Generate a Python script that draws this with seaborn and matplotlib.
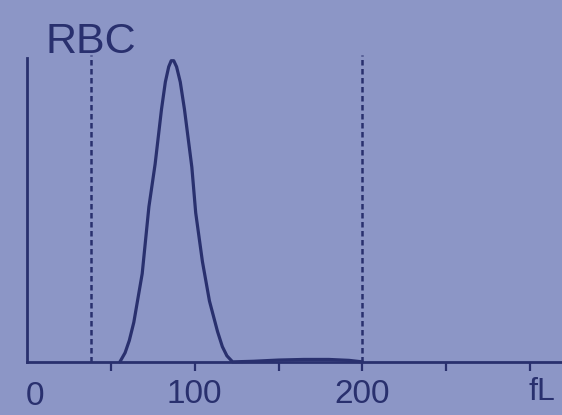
import matplotlib
matplotlib.use("Agg")
import matplotlib.pyplot as plt
import seaborn as sns

# ====== data ======
# RBC volume histogram, x in fL, y as relative count (0-100)
size_fl = [55.4, 58.5, 61.0, 63.7, 68.7, 72.7, 76.4, 80.2, 82.5, 84.5,
           86.0, 87.5, 89.2, 91.4, 93.9, 98.3, 100.6, 104.6, 108.8,
           113.6, 116.5, 119.2, 122.6,
           135, 150, 165, 180, 192, 200]
counts = [0, 3, 7, 13, 29, 51, 65, 83, 92, 97,
          99, 99, 97, 92, 83, 64, 49, 33, 20,
          10, 5, 2, 0,
          0.2, 0.6, 0.8, 0.8, 0.5, 0]
discriminators = [38, 200]  # dashed lines (fL)
tick_pos = [50, 100, 150, 200, 250, 300]
tick_txt = ["", "100", "", "200", "", ""]
title_txt = "RBC"
unit_txt = "fL"
# ======================================

BG = "#8c96c6"
INK = "#29306e"

sns.set_style("white")
plt.rcParams["font.family"] = ["Liberation Sans", "DejaVu Sans"]

fig = plt.figure(figsize=(5.62, 4.15), dpi=100, facecolor=BG)
ax = fig.add_axes([0.048, 0.128, 0.952, 0.733])
ax.set_facecolor(BG)

sns.lineplot(x=size_fl, y=counts, ax=ax, color=INK, linewidth=2.3,
             sort=False, clip_on=False, solid_joinstyle="round",
             solid_capstyle="round")

for d in discriminators:
    ax.vlines(d, 0, 101, colors=INK, linestyles=(0, (2.2, 1.4)),
              linewidth=1.8, clip_on=False)

ax.set_xlim(0, 319)
ax.set_ylim(0, 100)

for s in ["top", "right"]:
    ax.spines[s].set_visible(False)
for s in ["left", "bottom"]:
    ax.spines[s].set_color(INK)
    ax.spines[s].set_linewidth(2.0)

ax.set_yticks([])
ax.set_xticks(tick_pos)
ax.set_xticklabels(tick_txt, fontsize=24, color=INK)
ax.tick_params(axis="x", bottom=True, direction="out", length=6.5,
               width=1.6, color=INK, pad=6)

ax.text(38, 105, title_txt, ha="center", va="center", fontsize=31,
        color=INK, clip_on=False)
ax.text(5, -11.5, "0", ha="center", va="center", fontsize=24,
        color=INK, clip_on=False)
ax.text(307, -10, unit_txt, ha="center", va="center", fontsize=23,
        color=INK, clip_on=False)

ax.set_xlabel("")
ax.set_ylabel("")

fig.savefig("out.png", dpi=100, facecolor=BG)
